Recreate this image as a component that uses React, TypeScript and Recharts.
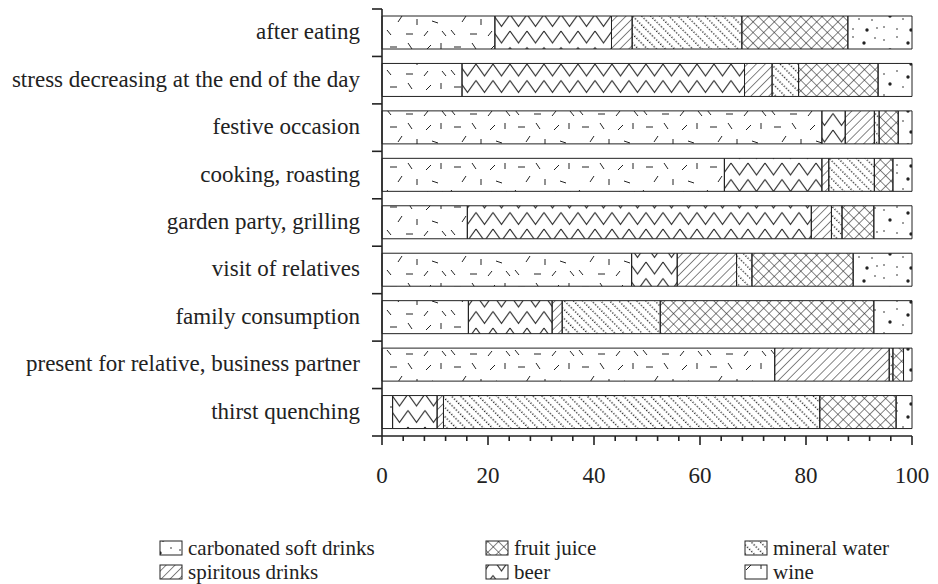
import React from 'react';
import { BarChart, Bar, XAxis, YAxis } from 'recharts';

// categories, top to bottom
const categories = [
  'after eating',
  'stress decreasing at the end of the day',
  'festive occasion',
  'cooking, roasting',
  'garden party, grilling',
  'visit of relatives',
  'family consumption',
  'present for relative, business partner',
  'thirst quenching',
];

// shares in %, stacked left to right
const wine = [21.3, 15.1, 83.0, 64.6, 16.1, 47.1, 16.3, 74.1, 2.0];
const beer = [22.0, 53.3, 4.4, 18.4, 64.9, 8.6, 15.8, 0, 8.4];
const spiritous = [3.9, 5.2, 5.5, 1.3, 3.8, 11.2, 1.9, 21.6, 1.2];
const mineral = [20.7, 5.0, 0.9, 8.6, 2.0, 2.9, 18.5, 0.7, 71.0];
const fruit = [20.0, 15.0, 3.6, 3.5, 6.0, 19.1, 40.3, 2.0, 14.4];
const carbonated = [12.1, 6.4, 2.6, 3.6, 7.2, 11.1, 7.2, 1.6, 3.0];

const majorTicks = [0, 20, 40, 60, 80, 100];
const minorStep = 4;

const series = [
  { key: 'wine', label: 'wine', values: wine },
  { key: 'beer', label: 'beer', values: beer },
  { key: 'spiritous', label: 'spiritous drinks', values: spiritous },
  { key: 'mineral', label: 'mineral water', values: mineral },
  { key: 'fruit', label: 'fruit juice', values: fruit },
  { key: 'carbonated', label: 'carbonated soft drinks', values: carbonated },
];

// legend order as in the figure
const legendRows = [
  ['carbonated', 'fruit', 'mineral'],
  ['spiritous', 'beer', 'wine'],
];

const data = categories.map((name, i) => {
  const row: any = { name };
  series.forEach((s) => (row[s.key] = s.values[i]));
  return row;
});

const W = 938;
const H = 584;
const PLOT_TOP = 9;
const PLOT_BOTTOM = 436;
const BAND = (PLOT_BOTTOM - PLOT_TOP) / categories.length;
const INK = '#222';
const FONT = '"Liberation Serif", "Times New Roman", serif';
const FS = 23;
const LEGEND_FS = 21;

const allTicks: number[] = [];
for (let v = 0; v <= 100; v += minorStep) allTicks.push(v);

function Patterns() {
  return (
    <defs>
      <pattern id="pat-wine" patternUnits="userSpaceOnUse" width="64" height="40">
        <g stroke={INK} strokeWidth="1">
          <line x1="6" y1="7" x2="13" y2="7" />
          <line x1="24" y1="3" x2="28" y2="9" />
          <line x1="42" y1="10" x2="47" y2="5" />
          <line x1="57" y1="3" x2="57" y2="9" />
          <line x1="14" y1="22" x2="18" y2="16" />
          <line x1="33" y1="19" x2="33" y2="25" />
          <line x1="48" y1="21" x2="54" y2="23" />
          <line x1="3" y1="30" x2="7" y2="35" />
          <line x1="22" y1="34" x2="29" y2="34" />
          <line x1="40" y1="36" x2="44" y2="31" />
          <line x1="58" y1="31" x2="62" y2="36" />
        </g>
      </pattern>
      <pattern id="pat-beer" patternUnits="userSpaceOnUse" width="17" height="16.5" y="-3">
        <polyline points="0,1 8.5,13 17,1" fill="none" stroke={INK} strokeWidth="1.1" />
      </pattern>
      <pattern id="pat-spiritous" patternUnits="userSpaceOnUse" width="6.3" height="6.3" patternTransform="rotate(45)">
        <line x1="0" y1="0" x2="0" y2="6.3" stroke={INK} strokeWidth="1.1" />
      </pattern>
      <pattern id="pat-mineral" patternUnits="userSpaceOnUse" width="6.4" height="6" patternTransform="rotate(-45)">
        <line x1="0.7" y1="0" x2="0.7" y2="6" stroke={INK} strokeWidth="1.4" strokeDasharray="1.2 1.8" />
      </pattern>
      <pattern id="pat-fruit" patternUnits="userSpaceOnUse" width="7.5" height="7.5" patternTransform="rotate(45)">
        <line x1="0" y1="0" x2="0" y2="7.5" stroke={INK} strokeWidth="1.1" />
        <line x1="0" y1="0" x2="7.5" y2="0" stroke={INK} strokeWidth="1.1" />
      </pattern>
      <pattern id="pat-carbonated" patternUnits="userSpaceOnUse" width="44" height="34">
        <g fill={INK}>
          <circle cx="4" cy="6" r="0.8" />
          <circle cx="17" cy="3" r="0.8" />
          <circle cx="28" cy="9" r="1.7" />
          <circle cx="39" cy="4" r="0.8" />
          <circle cx="10" cy="16" r="1.7" />
          <circle cx="23" cy="19" r="0.8" />
          <circle cx="36" cy="20" r="0.8" />
          <circle cx="4" cy="27" r="0.8" />
          <circle cx="17" cy="29" r="0.8" />
          <circle cx="31" cy="30" r="1.7" />
          <circle cx="41" cy="28" r="0.8" />
        </g>
      </pattern>
    </defs>
  );
}

const CategoryTick = ({ x, y, payload, index }: any) => {
  const last = index === categories.length - 1;
  return (
    <g>
      <line x1={x - 10} x2={x} y1={y - BAND / 2} y2={y - BAND / 2} stroke={INK} strokeWidth={1.6} />
      {last && <line x1={x - 10} x2={x} y1={y + BAND / 2} y2={y + BAND / 2} stroke={INK} strokeWidth={1.6} />}
      <text x={x - 22} y={y - 1} textAnchor="end" dominantBaseline="central" fontFamily={FONT} fontSize={FS} fill={INK}>
        {payload.value}
      </text>
    </g>
  );
};

const ValueTick = ({ x, y, payload }: any) => {
  const major = majorTicks.includes(payload.value);
  return (
    <g>
      <line x1={x} x2={x} y1={y} y2={y + (major ? 9 : 5)} stroke={INK} strokeWidth={1.6} />
      {major && (
        <text x={x} y={y + 39} textAnchor="middle" dominantBaseline="central" fontFamily={FONT} fontSize={FS} fill={INK}>
          {payload.value}
        </text>
      )}
    </g>
  );
};

function Legend() {
  const textX = [188, 514, 773];
  const rowsY = [548, 572];
  const byKey: any = {};
  series.forEach((s) => (byKey[s.key] = s));
  return (
    <svg width={W} height={H} style={{ position: 'absolute', left: 0, top: 0, pointerEvents: 'none' }}>
      {legendRows.map((row, r) =>
        row.map((key, c) => (
          <g key={key}>
            <rect x={textX[c] - 28} y={rowsY[r] - 7} width={22} height={14} fill={`url(#pat-${key})`} stroke={INK} strokeWidth={1} />
            <text x={textX[c]} y={rowsY[r]} dominantBaseline="central" fontFamily={FONT} fontSize={LEGEND_FS} fill={INK}>
              {byKey[key].label}
            </text>
          </g>
        ))
      )}
    </svg>
  );
}

export default function App() {
  return (
    <div style={{ position: 'absolute', left: 0, top: 0, width: W, height: H, background: '#fff' }}>
      <svg width={0} height={0} style={{ position: 'absolute' }}>
        <Patterns />
      </svg>
      <BarChart
        width={W}
        height={H}
        data={data}
        layout="vertical"
        barSize={33}
        margin={{ top: PLOT_TOP, right: 26, left: 0, bottom: H - PLOT_BOTTOM - 60 }}
      >
        <XAxis
          type="number"
          domain={[0, 100]}
          ticks={allTicks}
          interval={0}
          height={60}
          tickSize={0}
          tickMargin={0}
          tickLine={false}
          axisLine={{ stroke: INK, strokeWidth: 1.6 }}
          tick={<ValueTick />}
        />
        <YAxis
          type="category"
          dataKey="name"
          width={382}
          interval={0}
          tickSize={0}
          tickMargin={0}
          tickLine={false}
          axisLine={{ stroke: INK, strokeWidth: 1.6 }}
          tick={<CategoryTick />}
        />
        {series.map((s) => (
          <Bar
            key={s.key}
            dataKey={s.key}
            name={s.label}
            stackId="a"
            fill={`url(#pat-${s.key})`}
            stroke={INK}
            strokeWidth={1}
            isAnimationActive={false}
          />
        ))}
      </BarChart>
      <Legend />
    </div>
  );
}
